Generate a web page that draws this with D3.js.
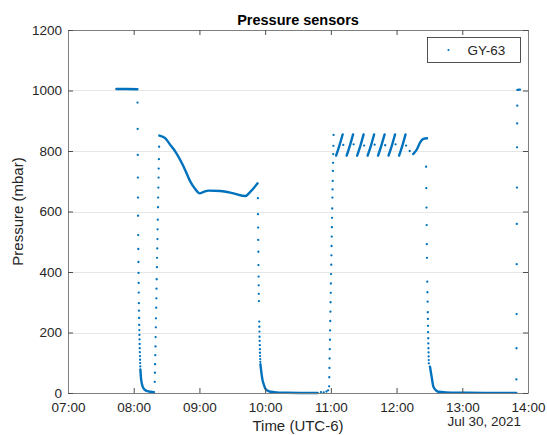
<!DOCTYPE html>
<html>
<head>
<meta charset="utf-8">
<script src="https://cdn.jsdelivr.net/npm/d3@7/dist/d3.min.js"></script>
<style>
  body { margin: 0; background: #fff; }
  text { font-family: "Liberation Sans", Arial, sans-serif; fill: #262626; }
</style>
</head>
<body>
<svg id="chart"></svg>
<script>
// times are minutes after 07:00 (Jul 30, 2021), pressures in mbar
var hourTicks = ["07:00", "08:00", "09:00", "10:00", "11:00", "12:00", "13:00", "14:00"];
var pressureTicks = [0, 200, 400, 600, 800, 1000, 1200];

// slow parts of the record: samples so close they look like a line
var holdHigh = [[44.2, 1005], [54, 1005], [63.4, 1004]];
var fall1Tail = [[66.1, 78], [66.5, 55], [67.2, 35], [68.3, 20], [70, 11], [72.5, 6], [75.5, 4], [78.5, 3]];
var plateau1 = [[83.4, 851], [86, 848], [88.9, 842], [93, 822], [98, 798], [105.6, 748], [111.7, 699], [116, 675],
  [120.2, 660], [124, 665], [128.4, 669], [139.1, 668], [151.2, 660], [161.9, 651], [166.4, 665], [173.1, 693]];
var fall2Tail = [[175.7, 95], [176.5, 70], [177.5, 45], [178.6, 30], [180, 16], [182, 8], [185, 4], [190, 2], [200, 1], [228, 0]];
var sawTeeth = [
  [[244.8, 785], [247.8, 818], [250.8, 855]],
  [[254.4, 785], [257.4, 818], [260.3, 855]],
  [[264.0, 785], [267.0, 818], [269.9, 855]],
  [[273.6, 785], [276.6, 818], [279.5, 855]],
  [[283.1, 785], [286.1, 818], [289.1, 855]],
  [[292.7, 785], [295.7, 818], [298.6, 855]],
  [[302.3, 785], [305.3, 818], [308.2, 855]],
  [[315.1, 790], [318.5, 805], [321.4, 828], [324.5, 840], [327.8, 842]]
];
var fall3Tail = [[330.5, 87], [332, 54], [333.6, 21], [336, 9], [338.1, 4], [345, 2], [360, 1], [380, 0.5], [409.3, 0.5]];
var holdEnd = [[410.3, 1002], [412.6, 1003]];

// fast parts: single visible samples
var fall1 = [[63.5, 960], [63.6, 873], [63.7, 787], [63.8, 712], [63.9, 646], [64.0, 586], [64.1, 522], [64.2, 476],
  [64.3, 433], [64.4, 397], [64.5, 364], [64.6, 332], [64.7, 297], [64.8, 272], [64.9, 248], [65.0, 225], [65.1, 208],
  [65.2, 192], [65.3, 177], [65.4, 162], [65.5, 148], [65.6, 135], [65.7, 122], [65.8, 110], [65.9, 99], [66.0, 88]];
var rise1 = [[79.2, 37], [79.4, 67], [79.5, 95], [79.7, 125], [79.9, 154], [80.0, 185], [80.2, 217], [80.3, 247],
  [80.5, 282], [80.7, 313], [80.8, 345], [81.0, 376], [81.2, 416], [81.3, 447], [81.5, 478], [81.7, 509], [81.8, 541],
  [82.0, 573], [82.2, 614], [82.3, 646], [82.5, 679], [82.7, 712], [82.8, 742], [83.0, 773], [83.2, 814]];
var fall2 = [[173.4, 644], [173.5, 591], [173.6, 547], [173.7, 506], [173.8, 467], [173.9, 423], [174.0, 385],
  [174.1, 356], [174.2, 328], [174.3, 304], [174.6, 236], [174.7, 219], [174.8, 203], [174.9, 186], [175.0, 172],
  [175.1, 158], [175.2, 145], [175.3, 133], [175.4, 122], [175.5, 112], [175.6, 103]];
var lowBlips = [[231, 3], [233.5, 2], [236, 5], [237.5, 9]];
var rise2 = [[238.4, 22], [238.55, 52], [238.7, 83], [238.85, 114], [239.0, 145], [239.15, 176], [239.3, 207],
  [239.45, 238], [239.6, 269], [239.75, 300], [239.9, 331], [240.05, 362], [240.2, 393], [240.35, 424], [240.5, 455],
  [240.65, 486], [240.8, 517], [240.95, 548], [241.1, 579], [241.25, 610], [241.4, 646], [241.55, 673], [241.7, 701],
  [241.85, 734], [242.0, 761], [242.15, 790], [242.3, 817], [242.45, 853]];
var sawDrops = [[251.3, 820], [260.8, 822], [270.4, 818], [280.0, 821], [289.6, 819], [299.1, 822], [308.7, 818], [312, 800]];
var fall3 = [[327.0, 748], [327.15, 677], [327.3, 613], [327.45, 555], [327.6, 492], [327.75, 447], [328.05, 368],
  [328.2, 333], [328.35, 302], [328.5, 267], [328.6, 245], [328.7, 222], [328.8, 201], [328.9, 181], [329.0, 164],
  [329.1, 148], [329.2, 134], [329.3, 121], [329.4, 109], [329.5, 98]];
var riseEnd = [[409.4, 45], [409.5, 148], [409.6, 261], [409.7, 426], [409.8, 559], [409.9, 679], [410.0, 812],
  [410.1, 891], [410.2, 950]];

var denseRuns = [holdHigh, fall1Tail, plateau1, fall2Tail, fall3Tail, holdEnd].concat(sawTeeth);
var sparseDots = [].concat(fall1, rise1, fall2, lowBlips, rise2, sawDrops, fall3, riseEnd);

var W = 547, H = 435;
var margin = {top: 30, right: 19, bottom: 42, left: 68};
var width = W - margin.left - margin.right,
    height = H - margin.top - margin.bottom;
var blue = "#0072bd";

var svg = d3.select("#chart").attr("width", W).attr("height", H);
var g = svg.append("g").attr("transform", "translate(" + margin.left + "," + margin.top + ")");

var day = new Date(2021, 6, 30, 7, 0);
function toDate(m) { return new Date(day.getTime() + m * 60000); }

var x = d3.scaleTime().domain([toDate(0), toDate(420)]).range([0, width]);
var y = d3.scaleLinear().domain([0, 1200]).range([height, 0]);
var hourDates = hourTicks.map(function(d, i) { return toDate(i * 60); });

// grid
g.append("g").selectAll("line")
  .data(pressureTicks.slice(1, -1))
  .enter().append("line")
  .attr("x1", 0).attr("x2", width)
  .attr("y1", function(d) { return Math.round(y(d)) + 0.5; })
  .attr("y2", function(d) { return Math.round(y(d)) + 0.5; })
  .attr("stroke", "#e6e6e6");

// data: dense stretches as thick strokes, fast changes as dots
var line = d3.line()
  .x(function(d) { return x(toDate(d[0])); })
  .y(function(d) { return y(d[1]); })
  .curve(d3.curveMonotoneX);

g.append("g").selectAll("path")
  .data(denseRuns)
  .enter().append("path")
  .attr("d", line)
  .attr("fill", "none")
  .attr("stroke", blue)
  .attr("stroke-width", 2.4)
  .attr("stroke-linecap", "round")
  .attr("stroke-linejoin", "round");

g.append("g").selectAll("circle")
  .data(sparseDots)
  .enter().append("circle")
  .attr("cx", function(d) { return x(toDate(d[0])); })
  .attr("cy", function(d) { return y(d[1]); })
  .attr("r", 1.15)
  .attr("fill", blue);

// axes (MATLAB style box with inward ticks)
var fmt = function(d, i) { return hourTicks[i]; };
var xAxis = g.append("g").attr("transform", "translate(0," + height + ")")
  .call(d3.axisBottom(x).tickValues(hourDates).tickFormat(fmt).tickSizeInner(-5).tickSizeOuter(0).tickPadding(9));
var xTop = g.append("g")
  .call(d3.axisTop(x).tickValues(hourDates).tickFormat("").tickSizeInner(-5).tickSizeOuter(0));
var yAxis = g.append("g")
  .call(d3.axisLeft(y).tickValues(pressureTicks).tickFormat(d3.format("d")).tickSizeInner(-5).tickSizeOuter(0).tickPadding(6));
var yRight = g.append("g").attr("transform", "translate(" + width + ",0)")
  .call(d3.axisRight(y).tickValues(pressureTicks).tickFormat("").tickSizeInner(-5).tickSizeOuter(0));

[xAxis, xTop, yAxis, yRight].forEach(function(a) {
  a.select(".domain").attr("stroke", "#7f7f7f");
  a.selectAll(".tick line").attr("stroke", "#4d4d4d");
  a.selectAll(".tick text").attr("font-size", "13.5px").attr("fill", "#262626")
    .style("font-family", "'Liberation Sans', Arial, sans-serif");
});

// labels
svg.append("text")
  .attr("x", margin.left + width / 2).attr("y", 25)
  .attr("text-anchor", "middle")
  .attr("font-size", "14.5px").attr("font-weight", "bold")
  .style("fill", "#000")
  .text("Pressure sensors");

svg.append("text")
  .attr("x", margin.left + width / 2).attr("y", 431)
  .attr("text-anchor", "middle")
  .attr("font-size", "15px")
  .text("Time (UTC-6)");

svg.append("text")
  .attr("x", 521).attr("y", 426)
  .attr("text-anchor", "end")
  .attr("font-size", "13.5px")
  .text("Jul 30, 2021");

svg.append("text")
  .attr("transform", "translate(23," + (margin.top + height / 2) + ") rotate(-90)")
  .attr("text-anchor", "middle")
  .attr("font-size", "15px")
  .text("Pressure (mbar)");

// legend
var legend = svg.append("g").attr("transform", "translate(427.5,37.5)");
legend.append("rect").attr("width", 93).attr("height", 25)
  .attr("fill", "#fff").attr("stroke", "#262626").attr("stroke-width", 0.8);
legend.append("circle").attr("cx", 21).attr("cy", 12.5).attr("r", 1.1).attr("fill", blue);
legend.append("text").attr("x", 40).attr("y", 17.5).attr("font-size", "13.5px").text("GY-63");
</script>
</body>
</html>
